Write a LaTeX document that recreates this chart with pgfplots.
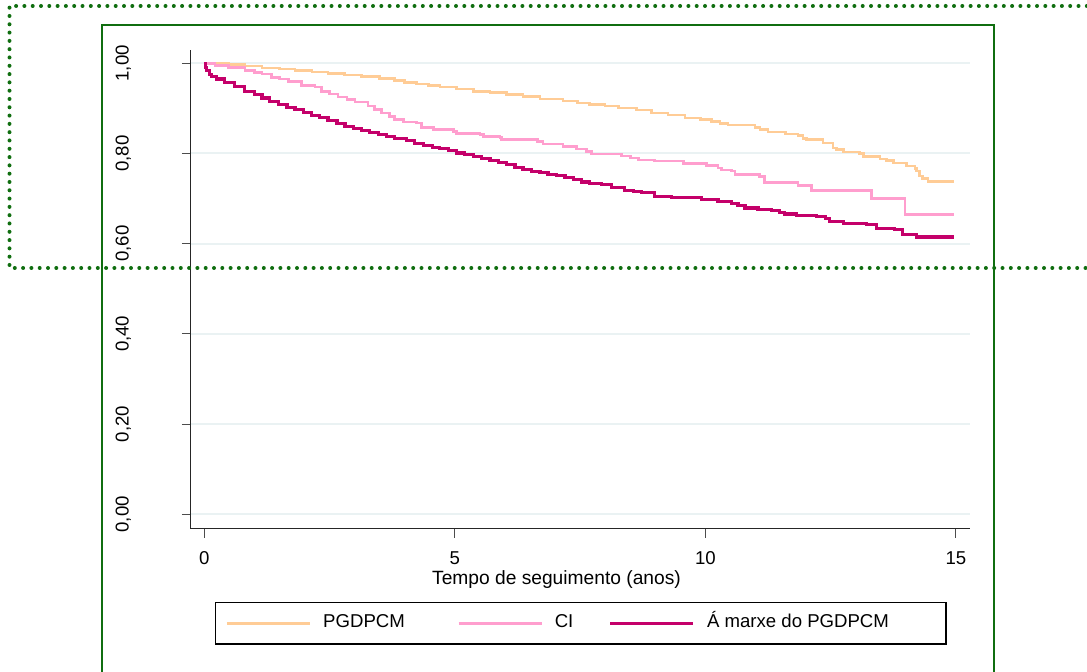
\documentclass[border=0pt]{standalone}
\usepackage{fontspec}
\setmainfont{Liberation Sans}
\usepackage{pgfplots}
\pgfplotsset{compat=1.18}

\definecolor{pgdpcm}{RGB}{255,204,150}
\definecolor{ci}{RGB}{255,158,206}
\definecolor{marxe}{RGB}{196,0,106}
\definecolor{framegreen}{RGB}{16,110,16}
\definecolor{gridcol}{RGB}{234,242,243}

\begin{document}
\begin{tikzpicture}
\path[use as bounding box] (0,0) rectangle (543.5pt,336pt);
\begin{axis}[
  at={(95.35pt,71.5pt)}, anchor=south west,
  width=389.65pt, height=239.5pt, scale only axis,
  xmin=-0.271, xmax=15.28, ymin=-0.0326, ymax=1.0295,
  axis lines*=left,
  axis line style={draw=black!85, line width=0.5pt},
  xtick={0,5,10,15}, xticklabels={0,5,10,15},
  ytick={0,0.2,0.4,0.6,0.8,1},
  yticklabels={{0,00},{0,20},{0,40},{0,60},{0,80},{1,00}},
  tick align=outside, major tick length=4.4pt,
  tick style={draw=black!70, line width=0.5pt},
  ymajorgrids, grid style={draw=gridcol, line width=1pt},
  tick label style={font=\fontsize{9.3}{10}\selectfont},
  yticklabel style={xshift=-26.6pt, rotate=90, anchor=base},
  xticklabel style={anchor=base, yshift=-13.3pt},
  xlabel={Tempo de seguimento (anos)},
  xlabel style={at={(axis description cs:0.4694,0)}, anchor=base, yshift=-28pt, font=\fontsize{9.6}{11}\selectfont},
  legend style={at={(0.0312,-0.1524)}, anchor=north west, draw=black, line width=0.6pt, fill=white,
    inner xsep=5pt, inner ysep=6.1pt, legend columns=3, font=\fontsize{9.3}{11}\selectfont,
    nodes={inner sep=0pt, text height=6.6pt, text depth=1.9pt},
    /tikz/every odd column/.style={column sep=6pt},
    /tikz/every even column/.style={column sep=0pt}},
  legend cell align=left,
  legend image code/.code={\draw[#1] (0pt,0pt) -- (41.5pt,0pt);},
]
% PGDPCM
\addplot[const plot, color=pgdpcm, line width=1.3pt] coordinates {
(0,1.000) (0.48,0.997) (0.80,0.994) (1.15,0.990) (1.50,0.987) (1.81,0.984) (2.15,0.981)
(2.47,0.977) (2.80,0.974) (3.14,0.971) (3.50,0.966) (3.80,0.962) (4.00,0.958) (4.24,0.954)
(4.47,0.951) (4.70,0.947) (5.03,0.943) (5.37,0.938) (5.70,0.935) (6.03,0.931) (6.36,0.926)
(6.70,0.921) (7.16,0.916) (7.45,0.912) (7.69,0.908) (8.00,0.905) (8.26,0.901) (8.63,0.896)
(8.92,0.890) (9.25,0.885) (9.59,0.879) (9.90,0.875) (10.12,0.871) (10.29,0.866) (10.45,0.863)
(10.99,0.858) (11.09,0.853) (11.25,0.848) (11.60,0.843) (11.85,0.840) (11.95,0.833)
(12.02,0.831) (12.35,0.823) (12.55,0.812) (12.62,0.809) (12.75,0.803) (13.08,0.800)
(13.15,0.793) (13.48,0.788) (13.61,0.784) (13.75,0.779) (14.01,0.772) (14.18,0.767)
(14.21,0.761) (14.27,0.750) (14.33,0.745) (14.44,0.738) (14.96,0.738)
};
\addlegendentry{\makebox[67pt][l]{PGDPCM}}
% CI
\addplot[const plot, color=ci, line width=1.3pt] coordinates {
(0,1.000) (0.21,0.995) (0.48,0.991) (0.81,0.984) (1.00,0.980) (1.15,0.976) (1.34,0.969)
(1.50,0.965) (1.68,0.960) (1.94,0.951) (2.21,0.947) (2.34,0.938) (2.50,0.932) (2.67,0.925)
(2.85,0.920) (3.01,0.914) (3.27,0.905) (3.40,0.898) (3.54,0.890) (3.70,0.882) (3.80,0.875)
(3.97,0.870) (4.24,0.868) (4.34,0.858) (4.57,0.853) (4.97,0.849) (5.03,0.844) (5.50,0.842)
(5.57,0.838) (5.90,0.836) (5.93,0.831) (6.65,0.826) (6.76,0.821) (7.16,0.816) (7.43,0.810)
(7.63,0.804) (7.73,0.799) (8.33,0.794) (8.50,0.790) (8.66,0.786) (8.99,0.783) (9.56,0.778)
(10.02,0.773) (10.25,0.768) (10.32,0.763) (10.52,0.761) (10.59,0.753) (11.08,0.749)
(11.18,0.736) (11.85,0.729) (12.12,0.718) (13.31,0.700) (13.98,0.665) (14.96,0.665)
};
\addlegendentry{\makebox[27pt][l]{CI}}
% A marxe do PGDPCM
\addplot[const plot, color=marxe, line width=1.6pt] coordinates {
(0,1.000) (0.02,0.990) (0.05,0.984) (0.10,0.976) (0.15,0.971) (0.25,0.965) (0.41,0.957)
(0.60,0.948) (0.81,0.938) (1.00,0.930) (1.15,0.923) (1.30,0.916) (1.48,0.908) (1.65,0.902)
(1.81,0.897) (1.98,0.891) (2.14,0.885) (2.30,0.879) (2.47,0.873) (2.65,0.866) (2.81,0.860)
(2.98,0.855) (3.14,0.851) (3.30,0.846) (3.47,0.842) (3.64,0.837) (3.80,0.833) (4.04,0.829)
(4.20,0.823) (4.37,0.818) (4.55,0.814) (4.70,0.811) (4.87,0.806) (5.03,0.801) (5.20,0.798)
(5.37,0.794) (5.53,0.789) (5.70,0.784) (5.87,0.780) (6.03,0.775) (6.20,0.769) (6.36,0.764)
(6.53,0.760) (6.70,0.757) (6.86,0.754) (7.03,0.751) (7.20,0.746) (7.36,0.742) (7.53,0.737)
(7.69,0.733) (7.93,0.731) (8.13,0.724) (8.39,0.718) (8.56,0.716) (8.73,0.713) (8.99,0.705)
(9.32,0.702) (9.92,0.698) (10.25,0.694) (10.52,0.690) (10.65,0.685) (10.79,0.679)
(11.05,0.676) (11.32,0.673) (11.48,0.670) (11.58,0.666) (11.82,0.663) (12.22,0.661)
(12.40,0.655) (12.48,0.650) (12.75,0.645) (13.21,0.642) (13.41,0.633) (13.78,0.631)
(13.94,0.620) (14.21,0.615) (14.97,0.615)
};
\addlegendentry{\makebox[114.5pt][l]{Á marxe do PGDPCM}}
\end{axis}
% outer frames
\draw[framegreen, line width=1pt] (51pt,-10pt) -- (51pt,323.5pt) -- (497pt,323.5pt) -- (497pt,-10pt);
\draw[framegreen, line width=2pt, line cap=round, dash pattern=on 0pt off 4.15pt]
  (560pt,333pt) -- (4.75pt,333pt) -- (4.75pt,202pt) -- (560pt,202pt);
\end{tikzpicture}
\end{document}
